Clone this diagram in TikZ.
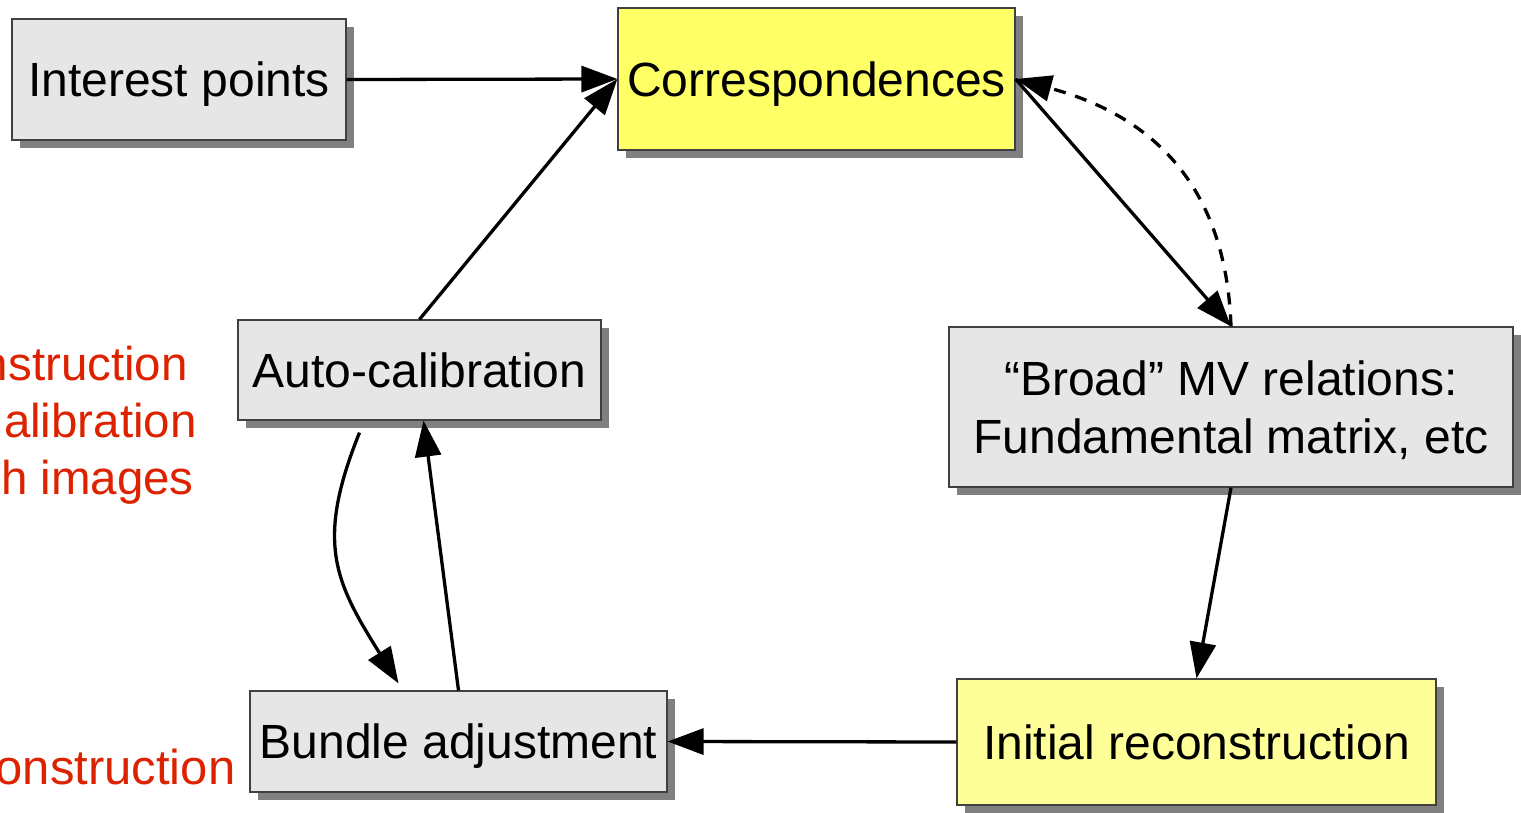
\documentclass[tikz,border=0pt]{standalone}
\usepackage{fontspec}
\setmainfont{Liberation Sans}
\usetikzlibrary{arrows.meta,shadows}
\definecolor{boxgray}{HTML}{E6E6E6}
\definecolor{shadowgray}{HTML}{808080}
\definecolor{yelA}{HTML}{FFFF66}
\definecolor{yelB}{HTML}{FFFF99}
\definecolor{redtxt}{HTML}{DD2200}
\tikzset{
  box/.style={draw=black!75, line width=1.2pt, inner sep=0pt, align=center,
    font=\fontsize{48}{58}\selectfont, text depth=0pt,
    drop shadow={shadow xshift=8pt, shadow yshift=-8pt, fill=shadowgray, opacity=1}},
  conn/.style={line width=3.3pt, -{Triangle[length=36pt,width=26pt]}},
  dconn/.style={conn, dash pattern=on 12pt off 10pt},
  redlbl/.style={text=redtxt, font=\fontsize{47.5}{58}\selectfont, inner sep=0pt, anchor=base east}
}
\begin{document}
\begin{tikzpicture}[x=1pt,y=1pt]
\useasboundingbox (0,0) rectangle (1521,-813);
\node[box, fill=boxgray, minimum width=334pt, minimum height=121pt] (ip) at (179,-79.5) {Interest points};
\node[box, fill=yelA, minimum width=397pt, minimum height=142pt] (corr) at (816.5,-79) {Correspondences};
\node[box, fill=boxgray, minimum width=564pt, minimum height=160pt] (broad) at (1231,-407) {“Broad” MV relations:\\Fundamental matrix, etc};
\node[box, fill=yelB, minimum width=479pt, minimum height=126pt] (init) at (1196.5,-742) {Initial reconstruction};
\node[box, fill=boxgray, minimum width=417pt, minimum height=101pt] (bund) at (458.5,-741.5) {Bundle adjustment};
\node[box, fill=boxgray, minimum width=363pt, minimum height=100pt] (auto) at (419.5,-370) {Auto-calibration};

\node[redlbl] (r1) at (188,-380) {nstruction};
\node[redlbl] (r2) at (197,-437) {alibration};
\node[redlbl] (r3) at (194,-494) {h images};
\node[redlbl, font=\fontsize{49}{58}\selectfont] (r4) at (235.5,-784) {onstruction};

\draw[conn] (ip.east) -- (corr.west);
\draw[conn] (auto.north) -- (corr.west);
\draw[conn] (corr.east) -- (broad.north);
\draw[dconn] (broad.north) to[out=92,in=-15,looseness=1.1] (corr.east);
\draw[conn] (broad.south) -- (init.north);
\draw[conn] (init.west) -- (bund.east);
\draw[conn] (bund.north) -- ([xshift=4pt]auto.south);
\draw[conn] ([xshift=-60pt,yshift=-12pt]auto.south) to[out=248,in=122,looseness=1.2] ([xshift=-60pt,yshift=7pt]bund.north);
\end{tikzpicture}
\end{document}
